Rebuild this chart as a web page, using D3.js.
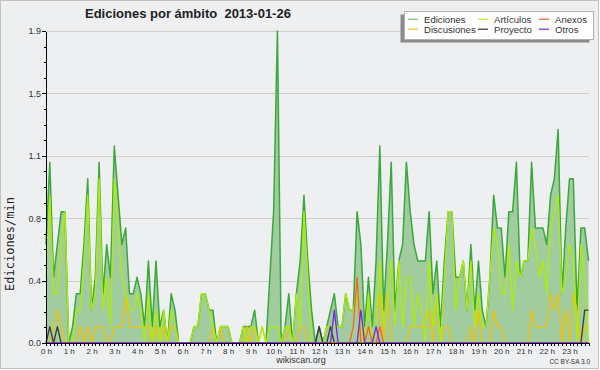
<!DOCTYPE html>
<meta charset="utf-8">
<head>
	<title>Ediciones por ámbito 2013-01-26</title>
	<script src="https://d3js.org/d3.v7.min.js"></script>
	<style>
		body { margin: 0; background: #fff; }
		.axis path, .axis line { stroke: #000; shape-rendering: crispEdges; }
		.axis text { font-family: "Liberation Sans", Arial, sans-serif; fill: #333; }
		.grid line { stroke: #cdcdcd; shape-rendering: crispEdges; }
	</style>
</head>
<body>
<div id="chart"></div>
<script>
	// one value every 10 minutes, in edits per minute
	var ediciones = [0.6,1.1,0.4,0.6,0.8,0.8,0,0.1,0.3,0.3,0.6,1.0,0.2,0.4,1.1,0.3,0.6,0.4,1.2,0.9,0.6,0.7,0.3,0.3,
		0.4,0.3,0.1,0.5,0.1,0.5,0.1,0.2,0,0.3,0.2,0,0,0,0,0.1,0.1,0.3,0.3,0.2,0.2,0,0.1,0.1,
		0.1,0,0,0,0.1,0.1,0.1,0.2,0,0,0,0.4,0.8,1.9,0,0.1,0.3,0,0.3,0.5,0.9,0.5,0.2,0,
		0.1,0,0.1,0.2,0.3,0.1,0.1,0.3,0.2,0.2,0.8,0.6,0.1,0.4,0.1,0.5,1.2,0.2,0.6,1.1,0.2,0.5,0.6,1.1,
		0.8,0.6,0.5,0.5,0.5,0.8,0.3,0.5,0.1,0.5,0.8,0.8,0.4,0.4,0.5,0.2,0.6,0.2,0.5,0.2,0.1,0.4,0.9,0.7,
		0.7,0.4,0.8,0.8,1.1,0.4,0.5,0.5,1.1,0.7,0.7,0.7,0.6,0.9,1.0,1.3,0.3,0.7,1.0,1.0,0.2,0.7,0.7,0.5];
	var articulos = [0.4,0.9,0.3,0.3,0.6,0.8,0,0,0.2,0.2,0.5,0.9,0.2,0.3,1.0,0.2,0.4,0.1,1.0,0.7,0.4,0.3,0.2,0.2,
		0.3,0.2,0,0.3,0,0.2,0,0.2,0,0.2,0.1,0,0,0,0,0.1,0.1,0.3,0.3,0.2,0.1,0,0.1,0.1,
		0.1,0,0,0,0.1,0,0.1,0.1,0,0.1,0,0.1,0.1,0.1,0,0.1,0.1,0,0.3,0.1,0.8,0.4,0,0,
		0,0,0.1,0.1,0.1,0.1,0.1,0.3,0.2,0.2,0.3,0.1,0,0.3,0,0.1,0.5,0.1,0.2,0.5,0.1,0.5,0.1,0.4,
		0.4,0.1,0.3,0.2,0,0.5,0.1,0.3,0,0.4,0.8,0.8,0.2,0.4,0.5,0.2,0.5,0.1,0.3,0.1,0.1,0.4,0.7,0.6,
		0.3,0.3,0.6,0.2,0.5,0.4,0.5,0.5,0.7,0.6,0.4,0.5,0.3,0.7,0.8,0.9,0.3,0.4,0.6,0.5,0,0.6,0.4,0];
	var discusiones = [0,0,0.1,0.2,0.1,0,0,0,0,0.1,0,0.1,0,0.1,0.1,0.1,0,0,0.1,0.1,0.1,0.3,0.1,0.1,
		0.1,0.1,0.1,0.1,0,0.1,0,0.1,0,0.1,0.1,0,0,0,0,0,0,0,0,0,0.1,0,0.1,0,
		0,0,0,0,0,0.1,0,0.1,0,0.1,0,0,0,0,0,0,0.1,0,0,0.1,0.1,0,0,0,
		0,0,0,0,0,0,0,0,0,0,0,0.1,0,0,0,0.1,0.3,0,0.3,0,0,0,0,0,
		0.1,0.1,0.1,0.1,0.1,0.2,0,0.3,0,0.1,0.1,0,0,0,0,0,0.1,0,0.2,0,0,0,0.2,0.1,
		0.1,0,0,0,0,0,0,0,0.2,0.1,0.1,0.1,0.1,0.3,0.2,0.3,0,0.2,0,0.3,0.2,0,0.1,0.1];
	var proyecto = [0,0.1,0,0.1,0,0,0,0,0,0,0,0,0,0,0,0,0,0,0,0,0,0,0,0,
		0,0,0,0,0,0,0,0,0,0,0,0,0,0,0,0,0,0,0,0,0,0,0,0,
		0,0,0,0,0,0,0,0,0,0,0,0,0,0,0,0,0,0,0,0,0,0,0,0,
		0.1,0,0,0.1,0,0,0,0,0,0,0,0,0,0,0,0,0,0,0,0,0,0,0,0,
		0,0,0,0,0,0,0,0,0,0,0,0,0,0,0,0,0,0,0,0,0,0,0,0,
		0,0,0,0,0,0,0,0,0,0,0,0,0,0,0,0,0,0,0,0,0,0,0.2,0.2];
	var anexos = [0,0,0,0,0,0,0,0,0,0,0,0,0,0,0,0,0,0,0,0,0,0,0,0,
		0,0,0,0,0,0,0,0,0,0,0,0,0,0,0,0,0,0,0,0,0,0,0,0,
		0,0,0,0,0,0,0,0,0,0,0,0,0,0,0,0,0,0,0,0,0,0,0,0,
		0,0,0,0,0,0,0,0,0,0.1,0.4,0,0,0.1,0,0,0.1,0,0,0,0,0,0,0,
		0,0,0,0,0,0,0,0,0,0,0,0,0,0,0,0,0,0,0,0,0,0,0,0,
		0,0,0,0,0,0,0,0,0,0,0,0,0,0,0,0,0,0,0,0,0,0,0,0];
	var otros = [0,0,0,0,0,0,0,0,0,0,0,0,0,0,0,0,0,0,0,0,0,0,0,0,
		0,0,0,0,0,0,0,0,0,0,0,0,0,0,0,0,0,0,0,0,0,0,0,0,
		0,0,0,0,0,0,0,0,0,0,0,0,0,0,0,0,0,0,0,0,0,0,0,0,
		0,0,0,0,0.2,0,0,0,0,0,0,0.2,0,0,0,0.1,0,0,0,0,0,0,0,0,
		0,0,0,0,0,0,0,0,0,0,0,0,0,0,0,0,0,0,0,0,0,0,0,0,
		0,0,0,0,0,0,0,0,0,0,0,0,0,0,0,0,0,0,0,0,0,0,0,0];

	var hourLabels = ["0 h","1 h","2 h","3 h","4 h","5 h","6 h","7 h","8 h","9 h","10 h","11 h",
		"12 h","13 h","14 h","15 h","16 h","17 h","18 h","19 h","20 h","21 h","22 h","23 h"];
	var yTicks = [0, 0.38, 0.76, 1.14, 1.52, 1.9];
	var yTickLabels = ["0.0","0.4","0.8","1.1","1.5","1.9"];

	var legendNames = ["Ediciones","Artículos","Anexos","Discusiones","Proyecto","Otros"];
	var legendColors = ["#86d186","#c8f050","#f08050","#f5cf4a","#5a5a5a","#8c52f0"];

	var w = 600, h = 370;

	var svg = d3.select("#chart").append("svg")
		.attr("width", w).attr("height", h);

	// frame and background
	svg.append("rect").attr("width", 599).attr("height", 369).attr("fill", "#c2c2c2");
	svg.append("rect").attr("x", 1).attr("y", 1).attr("width", 597).attr("height", 367).attr("fill", "#eeeff1");

	var x = d3.scaleLinear().domain([0, ediciones.length - 1]).range([46, 588.5]);
	var y = d3.scaleLinear().domain([0, 1.9]).range([343, 31]);

	// horizontal grid
	svg.append("g").attr("class", "grid")
		.selectAll("line")
		.data(yTicks.slice(1)).enter()
		.append("line")
		.attr("x1", 47).attr("x2", 589)
		.attr("y1", d => Math.round(y(d)) + 0.5)
		.attr("y2", d => Math.round(y(d)) + 0.5);

	// total edits area
	var area = d3.area()
		.x((d, i) => x(i))
		.y0(y(0))
		.y1(d => y(d));

	var line = d3.line()
		.x((d, i) => x(i))
		.y(d => y(d));

	svg.append("path")
		.datum(ediciones)
		.attr("d", area)
		.style("fill", "#a0cca0");

	svg.append("path")
		.datum(ediciones)
		.attr("d", line)
		.style("fill", "none")
		.style("stroke", "#3aa83a")
		.style("stroke-width", 1.5)
		.style("stroke-linejoin", "round");

	var series = [
		{v: discusiones, c: "#f2c200"},
		{v: articulos, c: "#aeee00"},
		{v: proyecto, c: "#3a3a3a"},
		{v: anexos, c: "#ff6418"},
		{v: otros, c: "#7b22ee"}
	];

	svg.selectAll(".serie")
		.data(series).enter()
		.append("path")
		.attr("class", "serie")
		.attr("d", d => line(d.v))
		.style("fill", "none")
		.style("stroke", d => d.c)
		.style("stroke-width", 1.3)
		.style("stroke-linejoin", "round");

	// y axis
	var yAxis = svg.append("g").attr("class", "axis")
		.attr("transform", "translate(46,0)")
		.call(d3.axisLeft(y).tickValues(yTicks)
			.tickFormat((d, i) => yTickLabels[i])
			.tickSize(4).tickSizeOuter(0).tickPadding(1));
	yAxis.selectAll("text").style("font-size", "9px");

	svg.append("g").attr("class", "axis")
		.attr("transform", "translate(46,0)")
		.call(d3.axisLeft(y).tickValues(d3.range(0, 1.9, 0.095))
			.tickFormat("").tickSize(2).tickSizeOuter(0));

	// x axis
	svg.append("g").attr("class", "axis")
		.attr("transform", "translate(0,343)")
		.call(d3.axisBottom(x).tickValues(d3.range(ediciones.length))
			.tickFormat("").tickSize(3).tickSizeOuter(0));

	var xAxis = svg.append("g").attr("class", "axis")
		.attr("transform", "translate(0,343)")
		.call(d3.axisBottom(x).tickValues(d3.range(0, ediciones.length, 6))
			.tickFormat((d, i) => hourLabels[i])
			.tickSize(3).tickSizeOuter(0).tickPadding(2));
	xAxis.selectAll("text").style("font-size", "8px");

	// axis title
	svg.append("text")
		.attr("transform", "translate(14,244) rotate(-90)")
		.attr("text-anchor", "middle")
		.style("font-family", "'DejaVu Sans Mono', monospace")
		.style("font-size", "12px")
		.style("fill", "#222")
		.text("Ediciones/min");

	// title
	svg.append("text")
		.attr("x", 85).attr("y", 17.5)
		.style("font-family", "'Liberation Sans', Arial, sans-serif")
		.style("font-size", "13px")
		.style("font-weight", "bold")
		.style("fill", "#222")
		.attr("xml:space", "preserve")
		.text("Ediciones por ámbito  2013-01-26");

	// legend
	var lg = svg.append("g");
	lg.append("rect").attr("x", 400.5).attr("y", 14.5).attr("width", 189).attr("height", 28)
		.attr("fill", "#8a8a8a");
	lg.append("rect").attr("x", 404.5).attr("y", 11.5).attr("width", 189).attr("height", 28)
		.attr("fill", "#fff").attr("stroke", "#b0b0b0");

	var colX = [408, 478, 539];
	var items = lg.selectAll(".item")
		.data(legendNames).enter()
		.append("g")
		.attr("class", "item")
		.attr("transform", (d, i) => "translate(" + colX[i % 3] + "," + (i < 3 ? 19 : 29) + ")");
	items.append("rect")
		.attr("x", 0).attr("y", -0.5).attr("width", 10).attr("height", 1.5)
		.attr("fill", (d, i) => legendColors[i]);
	items.append("text")
		.attr("x", 16).attr("y", 3.5)
		.style("font-family", "'Liberation Sans', Arial, sans-serif")
		.style("font-size", "9.6px")
		.style("fill", "#333")
		.text(d => d);

	// footer
	svg.append("text")
		.attr("x", 301).attr("y", 363)
		.attr("text-anchor", "middle")
		.style("font-family", "'Liberation Sans', Arial, sans-serif")
		.style("font-size", "9px")
		.style("fill", "#333")
		.text("wikiscan.org");

	svg.append("text")
		.attr("x", 590).attr("y", 364)
		.attr("text-anchor", "end")
		.style("font-family", "'Liberation Sans', Arial, sans-serif")
		.style("font-size", "6.5px")
		.style("fill", "#333")
		.text("CC BY-SA 3.0");
</script>
</body>
</html>
